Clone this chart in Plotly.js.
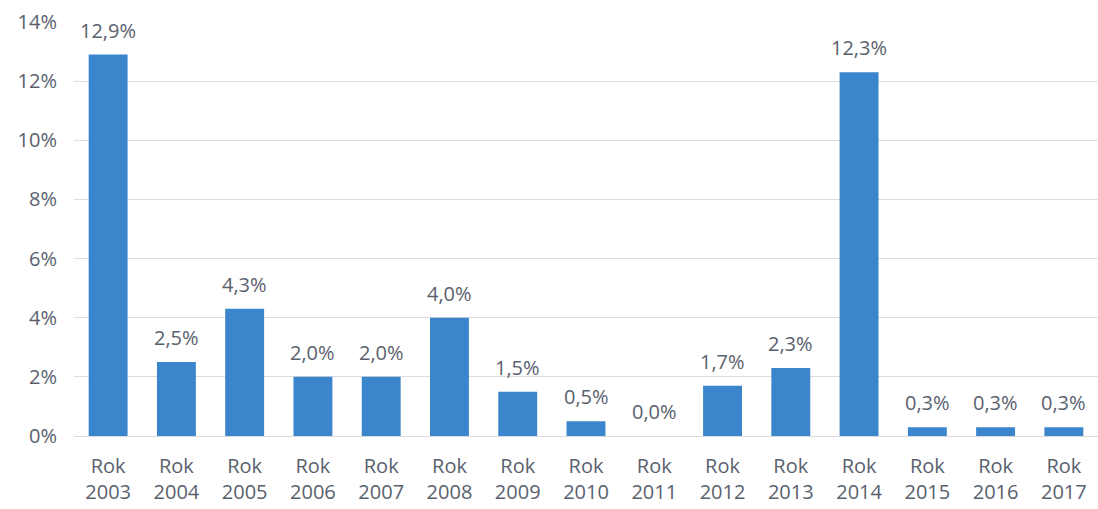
<!DOCTYPE html>
<html><head><meta charset="utf-8">
<script src="https://cdn.plot.ly/plotly-3.0.1.min.js"></script>
<style>html,body{margin:0;padding:0;background:#fff}#c{width:1098px;height:509px}</style>
</head><body><div id="c"></div>
<script>
const categories = ["Rok<br>2003","Rok<br>2004","Rok<br>2005","Rok<br>2006","Rok<br>2007","Rok<br>2008","Rok<br>2009","Rok<br>2010","Rok<br>2011","Rok<br>2012","Rok<br>2013","Rok<br>2014","Rok<br>2015","Rok<br>2016","Rok<br>2017"];
const values = [12.9, 2.5, 4.3, 2.0, 2.0, 4.0, 1.5, 0.5, 0.0, 1.7, 2.3, 12.3, 0.3, 0.3, 0.3];
const yTicks = [0, 2, 4, 6, 8, 10, 12, 14];

const textColor = '#5a616e';
const fontFam = 'Open Sans, sans-serif';
const trace = {
  type: 'bar', x: categories, y: values,
  marker: {color: '#3b85cc', line: {width: 0}},
  hoverinfo: 'none'
};
const annotations = categories.map((c, i) => ({
  x: c, y: values[i], xref: 'x', yref: 'y',
  text: values[i].toFixed(1).replace('.', ',') + '%',
  showarrow: false, yanchor: 'bottom', yshift: 9,
  font: {family: fontFam, size: 20, color: textColor}
}));
const layout = {
  width: 1098, height: 509,
  margin: {l: 74, r: 0, t: 22, b: 73},
  paper_bgcolor: '#fff', plot_bgcolor: '#fff',
  separators: ',.',
  bargap: 0.43,
  showlegend: false,
  font: {family: fontFam, size: 20, color: textColor},
  annotations: annotations,
  xaxis: {type: 'category', tickfont: {size: 20, color: textColor}, showgrid: false, showline: false, ticks: '',
          ticklabelstandoff: 16},
  yaxis: {range: [0, 14], tickvals: yTicks, ticktext: yTicks.map(v => v + '%'), gridcolor: '#dcdcdc', gridwidth: 1,
          zeroline: true, zerolinecolor: '#d9d9d9', zerolinewidth: 1, showline: false, ticks: '',
          tickfont: {size: 20, color: textColor}, ticklabelstandoff: 16}
};
Plotly.newPlot('c', [trace], layout, {displayModeBar: false, staticPlot: true});
</script></body></html>
